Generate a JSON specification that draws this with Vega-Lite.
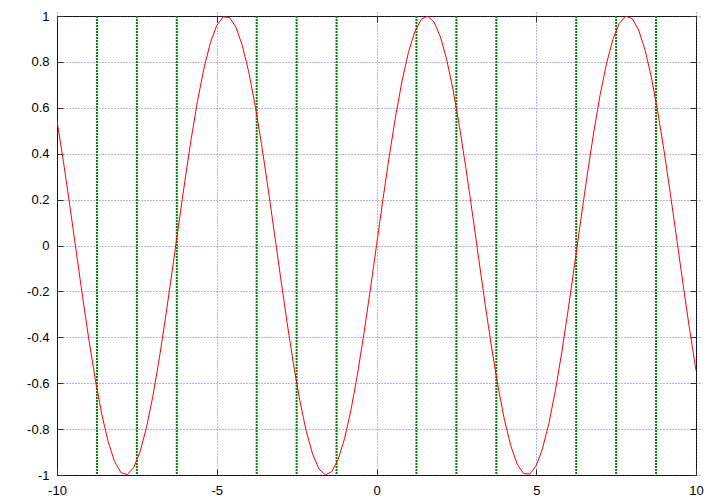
{
  "$schema": "https://vega.github.io/schema/vega-lite/v6.json",
  "autosize": "none",
  "width": 639,
  "height": 459,
  "padding": {"left": 57, "top": 16, "right": 24, "bottom": 29},
  "background": "white",
  "config": {
    "view": {"stroke": "black", "strokeWidth": 1},
    "font": "Liberation Sans",
    "axis": {
      "labelFont": "Liberation Sans",
      "labelFontSize": 13,
      "labelColor": "black",
      "labelFlush": false,
      "labelOverlap": false,
      "domain": false,
      "tickColor": "#333333",
      "tickSize": 6,
      "offset": -6,
      "gridColor": "#4040ff",
      "gridOpacity": 0.8,
      "gridDash": [1, 2],
      "gridWidth": 1,
      "title": null
    }
  },
  "resolve": {"axis": {"x": "independent", "y": "independent"}},
  "datasets": {
    "minor": [
      {"x": -8.75}, {"x": -7.5}, {"x": -6.25},
      {"x": -3.75}, {"x": -2.5}, {"x": -1.25},
      {"x": 1.25}, {"x": 2.5}, {"x": 3.75},
      {"x": 6.25}, {"x": 7.5}, {"x": 8.75}
    ],
    "curve": [
      {"x": -10.0, "y": 0.54402}, {"x": -9.8, "y": 0.36648}, {"x": -9.6, "y": 0.17433},
      {"x": -9.4, "y": -0.02478}, {"x": -9.2, "y": -0.22289}, {"x": -9.0, "y": -0.41212},
      {"x": -8.8, "y": -0.58491}, {"x": -8.6, "y": -0.73440}, {"x": -8.4, "y": -0.85460},
      {"x": -8.2, "y": -0.94073}, {"x": -8.0, "y": -0.98936}, {"x": -7.8, "y": -0.99854},
      {"x": -7.6, "y": -0.96792}, {"x": -7.4, "y": -0.89870}, {"x": -7.2, "y": -0.79367},
      {"x": -7.0, "y": -0.65699}, {"x": -6.8, "y": -0.49411}, {"x": -6.6, "y": -0.31154},
      {"x": -6.4, "y": -0.11655}, {"x": -6.2, "y": 0.08309}, {"x": -6.0, "y": 0.27942},
      {"x": -5.8, "y": 0.46460}, {"x": -5.6, "y": 0.63127}, {"x": -5.4, "y": 0.77276},
      {"x": -5.2, "y": 0.88345}, {"x": -5.0, "y": 0.95892}, {"x": -4.8, "y": 0.99616},
      {"x": -4.6, "y": 0.99369}, {"x": -4.4, "y": 0.95160}, {"x": -4.2, "y": 0.87158},
      {"x": -4.0, "y": 0.75680}, {"x": -3.8, "y": 0.61186}, {"x": -3.6, "y": 0.44252},
      {"x": -3.4, "y": 0.25554}, {"x": -3.2, "y": 0.05837}, {"x": -3.0, "y": -0.14112},
      {"x": -2.8, "y": -0.33499}, {"x": -2.6, "y": -0.51550}, {"x": -2.4, "y": -0.67546},
      {"x": -2.2, "y": -0.80850}, {"x": -2.0, "y": -0.90930}, {"x": -1.8, "y": -0.97385},
      {"x": -1.6, "y": -0.99957}, {"x": -1.4, "y": -0.98545}, {"x": -1.2, "y": -0.93204},
      {"x": -1.0, "y": -0.84147}, {"x": -0.8, "y": -0.71736}, {"x": -0.6, "y": -0.56464},
      {"x": -0.4, "y": -0.38942}, {"x": -0.2, "y": -0.19867}, {"x": 0.0, "y": 0.0},
      {"x": 0.2, "y": 0.19867}, {"x": 0.4, "y": 0.38942}, {"x": 0.6, "y": 0.56464},
      {"x": 0.8, "y": 0.71736}, {"x": 1.0, "y": 0.84147}, {"x": 1.2, "y": 0.93204},
      {"x": 1.4, "y": 0.98545}, {"x": 1.6, "y": 0.99957}, {"x": 1.8, "y": 0.97385},
      {"x": 2.0, "y": 0.90930}, {"x": 2.2, "y": 0.80850}, {"x": 2.4, "y": 0.67546},
      {"x": 2.6, "y": 0.51550}, {"x": 2.8, "y": 0.33499}, {"x": 3.0, "y": 0.14112},
      {"x": 3.2, "y": -0.05837}, {"x": 3.4, "y": -0.25554}, {"x": 3.6, "y": -0.44252},
      {"x": 3.8, "y": -0.61186}, {"x": 4.0, "y": -0.75680}, {"x": 4.2, "y": -0.87158},
      {"x": 4.4, "y": -0.95160}, {"x": 4.6, "y": -0.99369}, {"x": 4.8, "y": -0.99616},
      {"x": 5.0, "y": -0.95892}, {"x": 5.2, "y": -0.88345}, {"x": 5.4, "y": -0.77276},
      {"x": 5.6, "y": -0.63127}, {"x": 5.8, "y": -0.46460}, {"x": 6.0, "y": -0.27942},
      {"x": 6.2, "y": -0.08309}, {"x": 6.4, "y": 0.11655}, {"x": 6.6, "y": 0.31154},
      {"x": 6.8, "y": 0.49411}, {"x": 7.0, "y": 0.65699}, {"x": 7.2, "y": 0.79367},
      {"x": 7.4, "y": 0.89870}, {"x": 7.6, "y": 0.96792}, {"x": 7.8, "y": 0.99854},
      {"x": 8.0, "y": 0.98936}, {"x": 8.2, "y": 0.94073}, {"x": 8.4, "y": 0.85460},
      {"x": 8.6, "y": 0.73440}, {"x": 8.8, "y": 0.58491}, {"x": 9.0, "y": 0.41212},
      {"x": 9.2, "y": 0.22289}, {"x": 9.4, "y": 0.02478}, {"x": 9.6, "y": -0.17433},
      {"x": 9.8, "y": -0.36648}, {"x": 10.0, "y": -0.54402}
    ]
  },
  "layer": [
    {
      "data": {"name": "minor"},
      "mark": {"type": "rule", "stroke": "#008000", "strokeWidth": 2, "strokeDash": [2, 1]},
      "encoding": {
        "x": {
          "field": "x",
          "type": "quantitative",
          "scale": {"domain": [-10, 10], "nice": false, "zero": false},
          "axis": {
            "orient": "bottom",
            "values": [-10, -5, 0, 5, 10],
            "labelPadding": 9,
            "labelExpr": "'' + datum.value"
          }
        }
      }
    },
    {
      "data": {"name": "curve"},
      "mark": {"type": "line", "stroke": "#ff0000", "strokeWidth": 1, "clip": true},
      "encoding": {
        "x": {
          "field": "x",
          "type": "quantitative",
          "axis": {"orient": "top", "values": [-10, -5, 0, 5, 10], "labels": false, "grid": false}
        },
        "y": {
          "field": "y",
          "type": "quantitative",
          "scale": {"domain": [-1, 1], "nice": false, "zero": false},
          "axis": {
            "orient": "left",
            "values": [-1, -0.8, -0.6, -0.4, -0.2, 0, 0.2, 0.4, 0.6, 0.8, 1],
            "labelPadding": 8,
            "labelExpr": "'' + datum.value"
          }
        }
      }
    },
    {
      "data": {"name": "curve"},
      "mark": {"type": "line", "strokeOpacity": 0, "clip": true},
      "encoding": {
        "x": {"field": "x", "type": "quantitative", "axis": null},
        "y": {
          "field": "y",
          "type": "quantitative",
          "axis": {
            "orient": "right",
            "values": [-1, -0.8, -0.6, -0.4, -0.2, 0, 0.2, 0.4, 0.6, 0.8, 1],
            "labels": false,
            "grid": false
          }
        }
      }
    }
  ]
}
